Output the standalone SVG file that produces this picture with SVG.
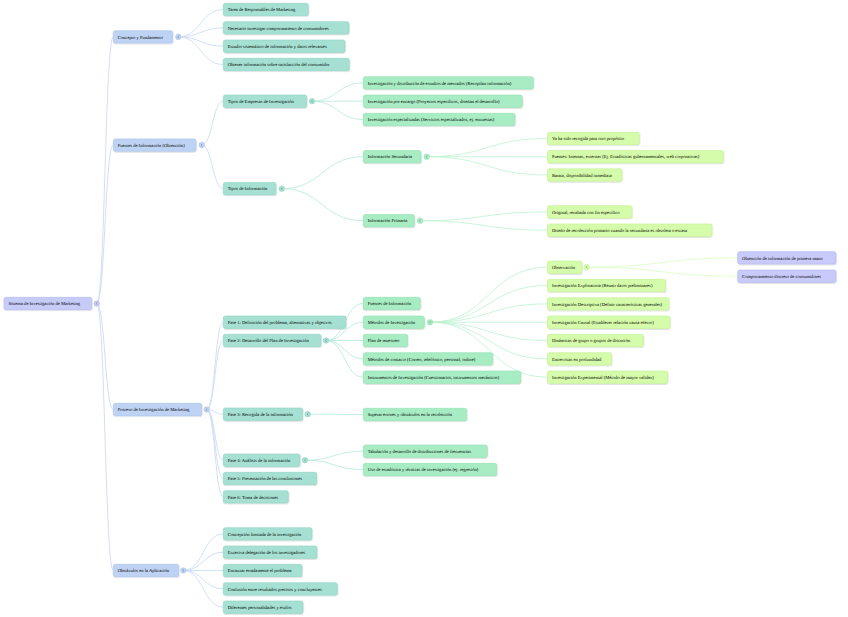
<svg xmlns="http://www.w3.org/2000/svg" width="848" height="617" viewBox="0 0 848 617">
<defs>
<filter id="sh" x="-10%" y="-30%" width="120%" height="170%"><feDropShadow dx="0.4" dy="0.8" stdDeviation="0.6" flood-color="#000" flood-opacity="0.18"/></filter>
</defs>
<style>
text{font-family:"Liberation Serif","Times New Roman",serif;font-size:4.6px;fill:#000;text-rendering:geometricPrecision}
rect{stroke-width:0.6;filter:url(#sh)}
.c0 rect,circle.c0{fill:#c6cbf8;stroke:#b3b9f1}
.c1 rect,circle.c1{fill:#bed3f3;stroke:#aac3ee}
.c2 rect,circle.c2{fill:#a5e0d3;stroke:#90d5c5}
.c3 rect,circle.c3{fill:#a8ecc4;stroke:#92e2b2}
.c4 rect,circle.c4{fill:#d5fcab;stroke:#c2f292}
.c5 rect,circle.c5{fill:#c8cbf9;stroke:#b2b6f1}
circle{stroke-width:0.5}
.chev{fill:none;stroke:#666;stroke-width:0.45}
#links path{fill:none;stroke-width:0.8}
.l0{stroke:#ccd2f8}
.l1{stroke:#c6d8f4}
.l2{stroke:#b4e8da}
.l3{stroke:#bcf2d0}
.l4{stroke:#dcfcc2}
</style>
<rect x="0" y="0" width="848" height="617" fill="#ffffff" style="filter:none;stroke:none"/>
<g id="links">
<path class="l0" d="M96.7 303.5C105 303.5 105 36.9 113.3 36.9"/>
<path class="l0" d="M96.7 303.5C105 303.5 105 145.1 113.3 145.1"/>
<path class="l0" d="M96.7 303.5C105 303.5 105 409.5 113.3 409.5"/>
<path class="l0" d="M96.7 303.5C105 303.5 105 570.5 113.3 570.5"/>
<path class="l1" d="M178.3 36.9C200.8 36.9 200.8 9.5 223.3 9.5"/>
<path class="l1" d="M178.3 36.9C200.8 36.9 200.8 27.9 223.3 27.9"/>
<path class="l1" d="M178.3 36.9C200.8 36.9 200.8 46.2 223.3 46.2"/>
<path class="l1" d="M178.3 36.9C200.8 36.9 200.8 64.5 223.3 64.5"/>
<path class="l1" d="M201.7 145.1C212.5 145.1 212.5 101.2 223.3 101.2"/>
<path class="l1" d="M201.7 145.1C212.5 145.1 212.5 188.7 223.3 188.7"/>
<path class="l1" d="M206.7 409.5C215 409.5 215 322.2 223.3 322.2"/>
<path class="l1" d="M206.7 409.5C215 409.5 215 340.5 223.3 340.5"/>
<path class="l1" d="M206.7 409.5C215 409.5 215 414.2 223.3 414.2"/>
<path class="l1" d="M206.7 409.5C215 409.5 215 460.2 223.3 460.2"/>
<path class="l1" d="M206.7 409.5C215 409.5 215 478.5 223.3 478.5"/>
<path class="l1" d="M206.7 409.5C215 409.5 215 496.9 223.3 496.9"/>
<path class="l1" d="M183.3 570.5C203.3 570.5 203.3 533.9 223.3 533.9"/>
<path class="l1" d="M183.3 570.5C203.3 570.5 203.3 552.2 223.3 552.2"/>
<path class="l1" d="M183.3 570.5C203.3 570.5 203.3 570.5 223.3 570.5"/>
<path class="l1" d="M183.3 570.5C203.3 570.5 203.3 588.9 223.3 588.9"/>
<path class="l1" d="M183.3 570.5C203.3 570.5 203.3 607.2 223.3 607.2"/>
<path class="l2" d="M312 101.2C337.7 101.2 337.7 82.9 363.3 82.9"/>
<path class="l2" d="M312 101.2C337.7 101.2 337.7 101.2 363.3 101.2"/>
<path class="l2" d="M312 101.2C337.7 101.2 337.7 119.5 363.3 119.5"/>
<path class="l2" d="M281.7 188.7C322.5 188.7 322.5 156.7 363.3 156.7"/>
<path class="l2" d="M281.7 188.7C322.5 188.7 322.5 220.7 363.3 220.7"/>
<path class="l2" d="M326 340.5C344.7 340.5 344.7 303.5 363.3 303.5"/>
<path class="l2" d="M326 340.5C344.7 340.5 344.7 322.2 363.3 322.2"/>
<path class="l2" d="M326 340.5C344.7 340.5 344.7 340.5 363.3 340.5"/>
<path class="l2" d="M326 340.5C344.7 340.5 344.7 358.9 363.3 358.9"/>
<path class="l2" d="M326 340.5C344.7 340.5 344.7 377.2 363.3 377.2"/>
<path class="l2" d="M307.7 414.2C335.5 414.2 335.5 414.5 363.3 414.5"/>
<path class="l2" d="M305 460.2C334.2 460.2 334.2 451.2 363.3 451.2"/>
<path class="l2" d="M305 460.2C334.2 460.2 334.2 469.5 363.3 469.5"/>
<path class="l3" d="M426.7 156.7C487.1 156.7 487.1 138.5 547.5 138.5"/>
<path class="l3" d="M426.7 156.7C487.1 156.7 487.1 156.7 547.5 156.7"/>
<path class="l3" d="M426.7 156.7C487.1 156.7 487.1 175 547.5 175"/>
<path class="l3" d="M420 220.7C483.8 220.7 483.8 211.9 547.5 211.9"/>
<path class="l3" d="M420 220.7C483.8 220.7 483.8 230.2 547.5 230.2"/>
<path class="l3" d="M430 322.2C488.8 322.2 488.8 267.2 547.5 267.2"/>
<path class="l3" d="M430 322.2C488.8 322.2 488.8 285.5 547.5 285.5"/>
<path class="l3" d="M430 322.2C488.8 322.2 488.8 303.9 547.5 303.9"/>
<path class="l3" d="M430 322.2C488.8 322.2 488.8 322.2 547.5 322.2"/>
<path class="l3" d="M430 322.2C488.8 322.2 488.8 340.5 547.5 340.5"/>
<path class="l3" d="M430 322.2C488.8 322.2 488.8 358.9 547.5 358.9"/>
<path class="l3" d="M430 322.2C488.8 322.2 488.8 377.2 547.5 377.2"/>
<path class="l4" d="M586.7 267.2C662.2 267.2 662.2 257.9 737.7 257.9"/>
<path class="l4" d="M586.7 267.2C662.2 267.2 662.2 276.2 737.7 276.2"/>
</g>

<g id="n-root" class="c0"><rect x="4" y="297.3" width="87.7" height="12.4" rx="2"/><text x="8.4" y="305.1">Sistema de Investigación de Marketing</text><circle class="c0" cx="96.7" cy="303.5" r="2.8"/><path class="chev" d="M97.4 302.3L96.1 303.5L97.4 304.7"/></g>

<g id="n-concepto" class="c1"><rect x="113.3" y="30.7" width="59.4" height="12.4" rx="2"/><text x="117.7" y="38.5">Concepto y Fundamento</text><circle class="c1" cx="178.3" cy="36.9" r="2.8"/><path class="chev" d="M179 35.7L177.7 36.9L179 38.1"/></g>
<g id="n-fuentes" class="c1"><rect x="113.3" y="138.9" width="82.7" height="12.4" rx="2"/><text x="117.7" y="146.7">Fuentes de Información (Obtención)</text><circle class="c1" cx="201.7" cy="145.1" r="2.8"/><path class="chev" d="M202.4 143.9L201.1 145.1L202.4 146.3"/></g>
<g id="n-proceso" class="c1"><rect x="113.3" y="403.3" width="88.4" height="12.4" rx="2"/><text x="117.7" y="411.1">Proceso de Investigación de Marketing</text><circle class="c1" cx="206.7" cy="409.5" r="2.8"/><path class="chev" d="M207.4 408.3L206.1 409.5L207.4 410.7"/></g>
<g id="n-obstaculos" class="c1"><rect x="113.3" y="564.3" width="65.4" height="12.4" rx="2"/><text x="117.7" y="572.1">Obstáculos en la Aplicación</text><circle class="c1" cx="183.3" cy="570.5" r="2.8"/><path class="chev" d="M184 569.3L182.7 570.5L184 571.7"/></g>

<g id="n-tarea" class="c2"><rect x="223.3" y="3.3" width="85" height="12.4" rx="2"/><text x="227.7" y="11.1">Tarea de Responsables de Marketing</text></g>
<g id="n-necesario" class="c2"><rect x="223.3" y="21.7" width="125.7" height="12.4" rx="2"/><text x="227.7" y="29.5">Necesario investigar comportamiento de consumidores</text></g>
<g id="n-estudio" class="c2"><rect x="223.3" y="40" width="121.7" height="12.4" rx="2"/><text x="227.7" y="47.8">Estudio sistemático de información y datos relevantes</text></g>
<g id="n-obtener" class="c2"><rect x="223.3" y="58.3" width="126" height="12.4" rx="2"/><text x="227.7" y="66.1">Obtener información sobre satisfacción del consumidor</text></g>
<g id="n-tiposemp" class="c2"><rect x="223.3" y="95" width="83.4" height="12.4" rx="2"/><text x="227.7" y="102.8">Tipos de Empresas de Investigación</text><circle class="c2" cx="312" cy="101.2" r="2.8"/><path class="chev" d="M312.7 100L311.4 101.2L312.7 102.4"/></g>
<g id="n-tiposinf" class="c2"><rect x="223.3" y="182.5" width="52.7" height="12.4" rx="2"/><text x="227.7" y="190.3">Tipos de Información</text><circle class="c2" cx="281.7" cy="188.7" r="2.8"/><path class="chev" d="M282.4 187.5L281.1 188.7L282.4 189.9"/></g>
<g id="n-fase1" class="c2"><rect x="223.3" y="316" width="122.7" height="12.4" rx="2"/><text x="227.7" y="323.8">Fase 1: Definición del problema, alternativas y objetivos</text></g>
<g id="n-fase2" class="c2"><rect x="223.3" y="334.3" width="97.7" height="12.4" rx="2"/><text x="227.7" y="342.1">Fase 2: Desarrollo del Plan de Investigación</text><circle class="c2" cx="326" cy="340.5" r="2.8"/><path class="chev" d="M326.7 339.3L325.4 340.5L326.7 341.7"/></g>
<g id="n-fase3" class="c2"><rect x="223.3" y="408" width="79.4" height="12.4" rx="2"/><text x="227.7" y="415.8">Fase 3: Recogida de la información</text><circle class="c2" cx="307.7" cy="414.2" r="2.8"/><path class="chev" d="M308.4 413L307.1 414.2L308.4 415.4"/></g>
<g id="n-fase4" class="c2"><rect x="223.3" y="454" width="76.7" height="12.4" rx="2"/><text x="227.7" y="461.8">Fase 4: Análisis de la información</text><circle class="c2" cx="305" cy="460.2" r="2.8"/><path class="chev" d="M305.7 459L304.4 460.2L305.7 461.4"/></g>
<g id="n-fase5" class="c2"><rect x="223.3" y="472.3" width="93.4" height="12.4" rx="2"/><text x="227.7" y="480.1">Fase 5: Presentación de las conclusiones</text></g>
<g id="n-fase6" class="c2"><rect x="223.3" y="490.7" width="65" height="12.4" rx="2"/><text x="227.7" y="498.5">Fase 6: Toma de decisiones</text></g>
<g id="n-concepcion" class="c2"><rect x="223.3" y="527.7" width="88.7" height="12.4" rx="2"/><text x="227.7" y="535.5">Concepción limitada de la investigación</text></g>
<g id="n-excesiva" class="c2"><rect x="223.3" y="546" width="93.7" height="12.4" rx="2"/><text x="227.7" y="553.8">Excesiva delegación de los investigadores</text></g>
<g id="n-encauzar" class="c2"><rect x="223.3" y="564.3" width="78.7" height="12.4" rx="2"/><text x="227.7" y="572.1">Encauzar erradamente el problema</text></g>
<g id="n-confusion" class="c2"><rect x="223.3" y="582.7" width="114" height="12.4" rx="2"/><text x="227.7" y="590.5">Confusión entre resultados precisos y concluyentes</text></g>
<g id="n-diferentes" class="c2"><rect x="223.3" y="601" width="79.7" height="12.4" rx="2"/><text x="227.7" y="608.8">Diferentes personalidades y estilos</text></g>

<g id="n-invdist" class="c3"><rect x="363.3" y="76.7" width="170" height="12.4" rx="2"/><text x="367.7" y="84.5">Investigación y distribución de estudios de mercados (Recopilan información)</text></g>
<g id="n-invenc" class="c3"><rect x="363.3" y="95" width="159" height="12.4" rx="2"/><text x="367.7" y="102.8">Investigación por encargo (Proyectos específicos, diseñan el desarrollo)</text></g>
<g id="n-invesp" class="c3"><rect x="363.3" y="113.3" width="151.7" height="12.4" rx="2"/><text x="367.7" y="121.1">Investigación especializadas (Servicios especializados, ej. encuestas)</text></g>
<g id="n-infsec" class="c3"><rect x="363.3" y="150.5" width="57.7" height="12.4" rx="2"/><text x="367.7" y="158.3">Información Secundaria</text><circle class="c3" cx="426.7" cy="156.7" r="2.8"/><path class="chev" d="M427.4 155.5L426.1 156.7L427.4 157.9"/></g>
<g id="n-infprim" class="c3"><rect x="363.3" y="214.5" width="51" height="12.4" rx="2"/><text x="367.7" y="222.3">Información Primaria</text><circle class="c3" cx="420" cy="220.7" r="2.8"/><path class="chev" d="M420.7 219.5L419.4 220.7L420.7 221.9"/></g>
<g id="n-fuentesinf" class="c3"><rect x="363.3" y="297.3" width="57" height="12.4" rx="2"/><text x="367.7" y="305.1">Fuentes de Información</text></g>
<g id="n-metodos" class="c3"><rect x="363.3" y="316" width="61" height="12.4" rx="2"/><text x="367.7" y="323.8">Métodos de Investigación</text><circle class="c3" cx="430" cy="322.2" r="2.8"/><path class="chev" d="M430.7 321L429.4 322.2L430.7 323.4"/></g>
<g id="n-plan" class="c3"><rect x="363.3" y="334.3" width="44.4" height="12.4" rx="2"/><text x="367.7" y="342.1">Plan de muestreo</text></g>
<g id="n-contacto" class="c3"><rect x="363.3" y="352.7" width="129.4" height="12.4" rx="2"/><text x="367.7" y="360.5">Métodos de contacto (Correo, telefónico, personal, online)</text></g>
<g id="n-instrumentos" class="c3"><rect x="363.3" y="371" width="157.4" height="12.4" rx="2"/><text x="367.7" y="378.8">Instrumentos de Investigación (Cuestionarios, instrumentos mecánicos)</text></g>
<g id="n-superar" class="c3"><rect x="363.3" y="408.3" width="103.4" height="12.4" rx="2"/><text x="367.7" y="416.1">Superar errores y obstáculos en la recolección</text></g>
<g id="n-tabulacion" class="c3"><rect x="363.3" y="445" width="124" height="12.4" rx="2"/><text x="367.7" y="452.8">Tabulación y desarrollo de distribuciones de frecuencias</text></g>
<g id="n-uso" class="c3"><rect x="363.3" y="463.3" width="133.4" height="12.4" rx="2"/><text x="367.7" y="471.1">Uso de estadística y técnicas de investigación (ej. regresión)</text></g>

<g id="n-yaha" class="c4"><rect x="547.5" y="132.3" width="91.8" height="12.4" rx="2"/><text x="551.9" y="140.1">Ya ha sido recogida para otro propósito</text></g>
<g id="n-fuentesint" class="c4"><rect x="547.5" y="150.5" width="175.8" height="12.4" rx="2"/><text x="551.9" y="158.3">Fuentes: Internas, externas (Ej. Estadísticas gubernamentales, web corporativas)</text></g>
<g id="n-barata" class="c4"><rect x="547.5" y="168.8" width="74.5" height="12.4" rx="2"/><text x="551.9" y="176.6">Barata, disponibilidad inmediata</text></g>
<g id="n-original" class="c4"><rect x="547.5" y="205.7" width="84.5" height="12.4" rx="2"/><text x="551.9" y="213.5">Original, recabada con fin específico</text></g>
<g id="n-diseno" class="c4"><rect x="547.5" y="224" width="164.5" height="12.4" rx="2"/><text x="551.9" y="231.8">Diseño de recolección primario cuando la secundaria es obsoleta o escasa</text></g>
<g id="n-observacion" class="c4"><rect x="547.5" y="261" width="34.5" height="12.4" rx="2"/><text x="551.9" y="268.8">Observación</text><circle class="c4" cx="586.7" cy="267.2" r="2.8"/><path class="chev" d="M587.4 266L586.1 267.2L587.4 268.4"/></g>
<g id="n-exploratoria" class="c4"><rect x="547.5" y="279.3" width="118.2" height="12.4" rx="2"/><text x="551.9" y="287.1">Investigación Exploratoria (Reunir datos preliminares)</text></g>
<g id="n-descriptiva" class="c4"><rect x="547.5" y="297.7" width="121.5" height="12.4" rx="2"/><text x="551.9" y="305.5">Investigación Descriptiva (Definir características generales)</text></g>
<g id="n-causal" class="c4"><rect x="547.5" y="316" width="122.5" height="12.4" rx="2"/><text x="551.9" y="323.8">Investigación Causal (Establecer relación causa-efecto)</text></g>
<g id="n-dinamicas" class="c4"><rect x="547.5" y="334.3" width="95.8" height="12.4" rx="2"/><text x="551.9" y="342.1">Dinámicas de grupo o grupos de discusión</text></g>
<g id="n-entrevistas" class="c4"><rect x="547.5" y="352.7" width="64.2" height="12.4" rx="2"/><text x="551.9" y="360.5">Entrevistas en profundidad</text></g>
<g id="n-experimental" class="c4"><rect x="547.5" y="371" width="120" height="12.4" rx="2"/><text x="551.9" y="378.8">Investigación Experimental (Método de mayor validez)</text></g>

<g id="n-obtencion" class="c5"><rect x="737.7" y="251.7" width="98.3" height="12.4" rx="2"/><text x="742.1" y="259.5">Obtención de información de primera mano</text></g>
<g id="n-comportamiento" class="c5"><rect x="737.7" y="270" width="98.3" height="12.4" rx="2"/><text x="742.1" y="277.8">Comportamiento discreto de consumidores</text></g>
</svg>
